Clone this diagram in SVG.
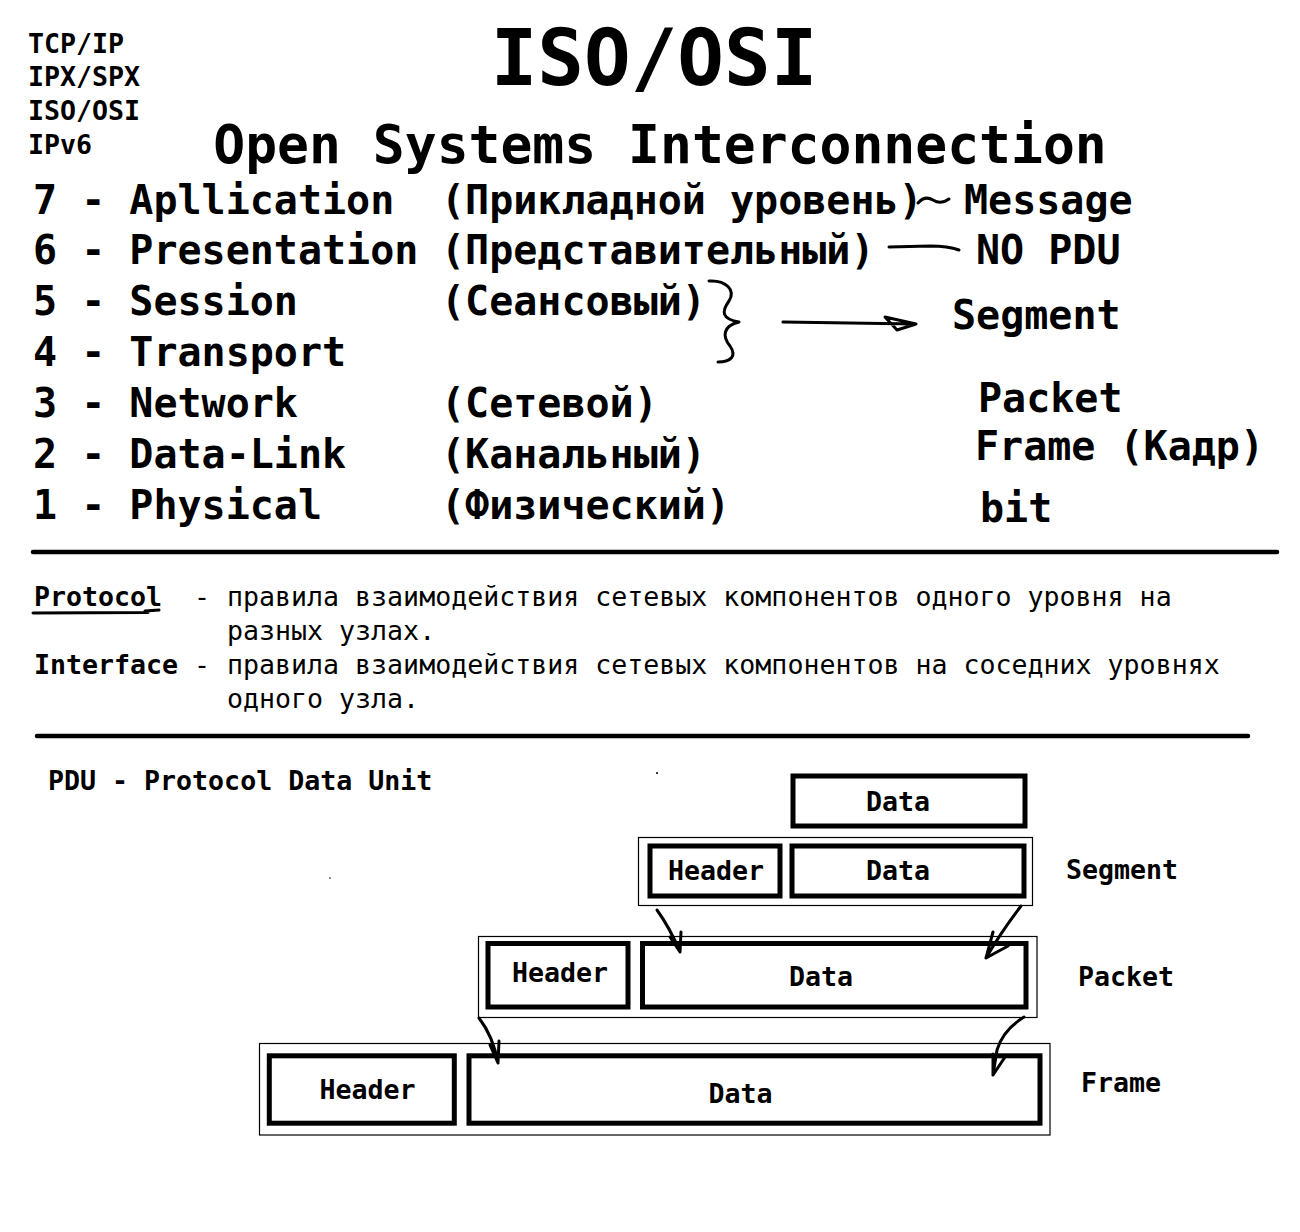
<svg xmlns="http://www.w3.org/2000/svg" width="1300" height="1232" viewBox="0 0 1300 1232">
<style>
text{font-family:"DejaVu Sans Mono","Liberation Mono",monospace;fill:#000;}
.b{font-weight:bold;}
.title{font-size:77.5px;font-weight:bold;text-anchor:middle;}
.sub{font-size:53px;font-weight:bold;text-anchor:middle;}
.sm{font-size:26.6px;font-weight:bold;}
.row{font-size:40px;font-weight:bold;}
.def{font-size:26.6px;}
.lbl{font-size:26.6px;font-weight:bold;}
.c{text-anchor:middle;}
.thick{fill:#fff;stroke:#000;stroke-width:5;}
.thin{fill:none;stroke:#000;stroke-width:1.2;}
.pen{fill:none;stroke:#000;stroke-width:3;stroke-linecap:round;stroke-linejoin:round;}
.rule{stroke:#000;stroke-width:4.5;stroke-linecap:round;}
</style>
<rect width="1300" height="1232" fill="#fff"/>

<g id="protocols">
<text class="sm" x="28" y="53">TCP/IP</text>
<text class="sm" x="28" y="86">IPX/SPX</text>
<text class="sm" x="28" y="120">ISO/OSI</text>
<text class="sm" x="28" y="154">IPv6</text>
</g>

<g id="title">
<text class="title" x="654" y="85">ISO/OSI</text>
<text class="sub" x="660" y="163">Open Systems Interconnection</text>
</g>

<g id="layers">
<text class="row" x="33" y="214">7 - Apllication</text>
<text class="row" x="441" y="214">(Прикладной уровень)</text>
<text class="row" x="33" y="264">6 - Presentation</text>
<text class="row" x="441" y="264">(Представительный)</text>
<text class="row" x="33" y="315">5 - Session</text>
<text class="row" x="441" y="315">(Сеансовый)</text>
<text class="row" x="33" y="366">4 - Transport</text>
<text class="row" x="33" y="417">3 - Network</text>
<text class="row" x="441" y="417">(Сетевой)</text>
<text class="row" x="33" y="468">2 - Data-Link</text>
<text class="row" x="441" y="468">(Канальный)</text>
<text class="row" x="33" y="519">1 - Physical</text>
<text class="row" x="441" y="519">(Физический)</text>
</g>

<g id="pdu-names">
<text class="row" x="964" y="214">Message</text>
<text class="row" x="976" y="264">NO PDU</text>
<text class="row" x="952" y="329">Segment</text>
<text class="row" x="978" y="412">Packet</text>
<text class="row" x="975" y="460">Frame (Кадр)</text>
<text class="row" x="980" y="522">bit</text>
</g>

<g id="rules">
<line class="rule" x1="33" y1="552" x2="1277" y2="552"/>
<line class="rule" x1="37" y1="736" x2="1248" y2="736"/>
</g>

<g id="definitions">
<text class="def b" x="34" y="606">Protocol</text>
<text class="def" x="194" y="606">-</text>
<text class="def" x="227" y="606">правила взаимодействия сетевых компонентов одного уровня на</text>
<text class="def" x="227" y="640">разных узлах.</text>
<text class="def b" x="34" y="674">Interface</text>
<text class="def" x="194" y="674">-</text>
<text class="def" x="227" y="674">правила взаимодействия сетевых компонентов на соседних уровнях</text>
<text class="def" x="227" y="708">одного узла.</text>
<path class="pen" d="M33,613 L148,612.5 M145,611 L159,610" stroke-width="2.6"/>
</g>

<g id="pdu-caption">
<text class="lbl" x="48" y="790">PDU - Protocol Data Unit</text>
<circle cx="657" cy="773" r="1" fill="#000"/>
<circle cx="330" cy="878" r="0.8" fill="#000"/>
</g>

<g id="node-data">
<rect class="thick" x="793" y="776" width="232" height="50"/>
<text class="lbl c" x="898" y="811">Data</text>
</g>

<g id="node-segment">
<rect class="thin" x="638.5" y="837.5" width="394" height="68"/>
<rect class="thick" x="650" y="846" width="130" height="50"/>
<text class="lbl c" x="716" y="880">Header</text>
<rect class="thick" x="792" y="846" width="232" height="50"/>
<text class="lbl c" x="898" y="880">Data</text>
<text class="lbl" x="1066" y="879">Segment</text>
</g>

<g id="node-packet">
<rect class="thin" x="478.5" y="936.5" width="558.5" height="81"/>
<rect class="thick" x="488" y="943.5" width="140" height="63.5"/>
<text class="lbl c" x="560" y="982">Header</text>
<rect class="thick" x="642.5" y="943.5" width="383.5" height="63.5"/>
<text class="lbl c" x="821" y="986">Data</text>
<text class="lbl" x="1078" y="986">Packet</text>
</g>

<g id="node-frame">
<rect class="thin" x="259.5" y="1043.5" width="790.5" height="91.5"/>
<rect class="thick" x="269.3" y="1055.8" width="185" height="67.4"/>
<text class="lbl c" x="367.5" y="1099">Header</text>
<rect class="thick" x="469" y="1055.8" width="571" height="67.4"/>
<text class="lbl c" x="740.5" y="1103">Data</text>
<text class="lbl" x="1081" y="1092">Frame</text>
</g>

<g id="connectors">
<path class="pen" d="M918,203 Q925,195 933,200 Q941,205 949,199"/>
<path class="pen" d="M889,247 L930,246 Q948,246 959,250"/>
<path class="pen" d="M709,281 C726,280 736,290 729,301 C721,312 722,319 739,322 C723,326 722,336 730,346 C737,356 731,362 718,362"/>
<path class="pen" d="M783,322 L916,324 M885,317 L916,324 L897,330 Z"/>
<path class="pen" d="M657,910 Q670,928 680,952 M670,937 L680,952 L681,932"/>
<path class="pen" d="M1021,906 Q1001,932 986,958 M993,932 L986,958 L1008,946"/>
<path class="pen" d="M479,1018 Q493,1036 498,1063 M490,1045 L498,1063 L499,1041"/>
<path class="pen" d="M1024,1017 Q1003,1030 997,1050 L993,1075 M993,1054 L993,1075 L1005,1057"/>
</g>
</svg>
